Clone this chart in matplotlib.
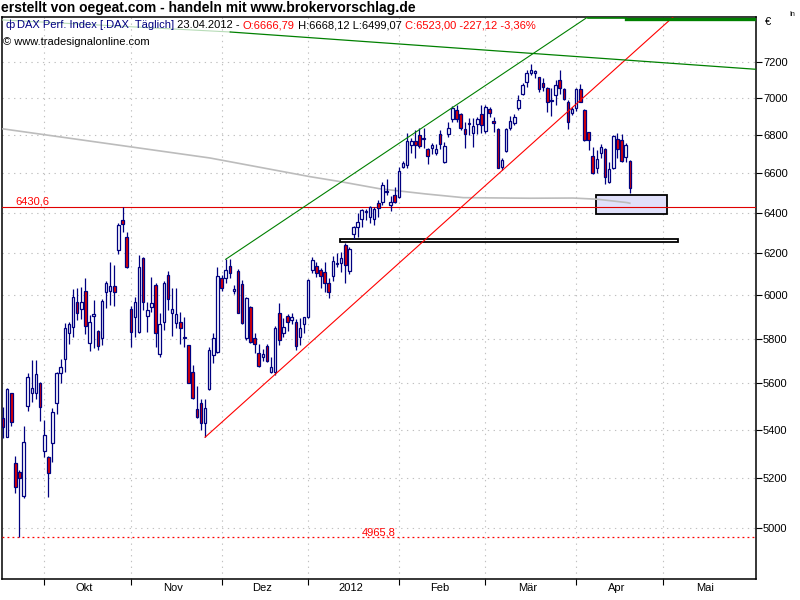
import numpy as np
import matplotlib
matplotlib.use('Agg')
import matplotlib.pyplot as plt
from matplotlib.patches import Rectangle
from matplotlib.ticker import FixedLocator, FixedFormatter, NullLocator

plt.rcParams['font.family'] = ['Liberation Sans', 'DejaVu Sans']

# DAX daily candles, Sep 2011 - 23.04.2012
opens = [5449, 5372, 5557, 5261, 5227, 5129, 5504, 5560, 5557, 5604,
         5313, 5286, 5344, 5514, 5648, 5707, 5824, 5851, 5967, 5934,
         6020, 5782, 5905, 5835, 5802, 6014, 6022, 6044, 6216, 6364,
         6282, 5936, 5897, 5832, 6176, 5905, 5947, 6048, 5731, 5877,
         6096, 5919, 5873, 5874, 5803, 5769, 5649, 5488, 5514, 5431,
         5576, 5727, 5741, 6080, 6080, 6139, 6018, 6115, 6053, 5801,
         5944, 5801, 5737, 5716, 5767, 5652, 5649, 5916, 5827, 5905,
         5885, 5877, 5806, 5865, 5897, 6120, 6139, 6120, 6112, 6060,
         6091, 6147, 6155, 6241, 6117, 6295, 6328, 6369, 6403, 6381,
         6369, 6448, 6456, 6505, 6440, 6490, 6478, 6635, 6644, 6749,
         6770, 6802, 6779, 6726, 6735, 6708, 6805, 6661, 6805, 6886,
         6936, 6913, 6834, 6859, 6811, 6859, 6913, 6823, 6941, 6877,
         6834, 6635, 6719, 6841, 6864, 6949, 7022, 7088, 7138, 7138,
         7115, 7083, 7055, 6985, 7015, 7101, 7051, 6978, 6918, 6945,
         7051, 6936, 6816, 6691, 6626, 6705, 6726, 6555, 6626, 6780,
         6775, 6684, 6666.79]
highs = [5499, 5582, 5560, 5291, 5233, 5417, 5645, 5704, 5704, 5608,
         5442, 5291, 5492, 5649, 5707, 5870, 5877, 6028, 6033, 6037,
         6080, 5908, 5978, 5839, 5983, 6067, 6160, 6144, 6347, 6430.6,
         6303, 5950, 5990, 6192, 6180, 5970, 6085, 6056, 5919, 6067,
         6115, 6033, 6033, 5920, 5900, 5772, 5682, 5589, 5531, 5531,
         5760, 5827, 6136, 6096, 6171, 6171, 6049, 6123, 6072, 5993,
         5950, 5824, 5776, 5752, 5776, 5719, 5855, 5965, 5893, 5912,
         5916, 5888, 5893, 5900, 6075, 6184, 6160, 6128, 6160, 6080,
         6187, 6200, 6208, 6249, 6233, 6334, 6398, 6418, 6418, 6435,
         6428, 6465, 6557, 6570, 6485, 6532, 6635, 6666, 6811, 6784,
         6829, 6838, 6838, 6735, 6758, 6753, 6829, 6763, 6873, 6959,
         6963, 6918, 6873, 6891, 6895, 6900, 6963, 6963, 6954, 6900,
         6838, 6679, 6838, 6904, 6913, 7018, 7083, 7156, 7188, 7156,
         7119, 7110, 7064, 7055, 7101, 7156, 7055, 6991, 6954, 7055,
         7077, 6941, 6819, 6740, 6722, 6753, 6731, 6657, 6802, 6811,
         6807, 6758, 6668.12]
lows = [5365, 5369, 5417, 5139, 4965.8, 5119, 5482, 5521, 5532, 5439,
        5288, 5125, 5268, 5466, 5604, 5652, 5774, 5809, 5885, 5889,
        5820, 5746, 5757, 5749, 5769, 5939, 5955, 5950, 6195, 6303,
        6130, 5760, 5809, 5825, 5931, 5832, 5923, 5764, 5719, 5839,
        5931, 5812, 5847, 5776, 5764, 5601, 5533, 5452, 5400, 5369,
        5572, 5689, 5734, 6018, 6057, 6080, 6007, 5916, 5867, 5794,
        5779, 5734, 5672, 5697, 5695, 5644, 5637, 5772, 5809, 5836,
        5867, 5749, 5772, 5824, 5893, 6107, 6088, 6036, 6013, 5985,
        6069, 6136, 6112, 6060, 6101, 6269, 6282, 6331, 6364, 6351,
        6339, 6381, 6440, 6490, 6411, 6448, 6473, 6627, 6630, 6708,
        6679, 6731, 6731, 6647, 6701, 6696, 6728, 6653, 6788, 6873,
        6873, 6829, 6731, 6802, 6740, 6805, 6811, 6811, 6900, 6816,
        6626, 6618, 6714, 6829, 6852, 6936, 7015, 7064, 7129, 7110,
        7033, 7037, 6927, 6904, 6963, 7022, 6991, 6834, 6906, 6931,
        6978, 6770, 6722, 6595, 6600, 6679, 6544, 6550, 6623, 6679,
        6657, 6657, 6499.07]
closes = [5414, 5576, 5435, 5166, 5199, 5348, 5627, 5579, 5642, 5499,
          5379, 5220, 5476, 5645, 5674, 5847, 5865, 5994, 5916, 5967,
          5859, 5877, 5911, 5767, 5973, 6056, 6045, 6014, 6339, 6342,
          6136, 5832, 5967, 6133, 5967, 5931, 5962, 5827, 5865, 6056,
          5983, 5936, 5911, 5850, 5806, 5604, 5538, 5456, 5428, 5492,
          5749, 5802, 6091, 6033, 6120, 6104, 6028, 5919, 5873, 5985,
          5784, 5776, 5677, 5730, 5701, 5671, 5847, 5794, 5852, 5877,
          5900, 5768, 5847, 5897, 6072, 6168, 6107, 6091, 6057, 6013,
          6163, 6155, 6179, 6144, 6220, 6331, 6356, 6414, 6411, 6428,
          6418, 6423, 6540, 6512, 6453, 6456, 6613, 6656, 6772, 6767,
          6749, 6744, 6784, 6691, 6749, 6726, 6753, 6745, 6841, 6949,
          6886, 6837, 6805, 6864, 6850, 6886, 6852, 6954, 6918, 6864,
          6630, 6670, 6834, 6877, 6900, 6991, 7074, 7138, 7156, 7151,
          7051, 7064, 6981, 6989, 7074, 7055, 6996, 6870, 6941, 7051,
          6981, 6775, 6775, 6600, 6675, 6740, 6583, 6621, 6797, 6726,
          6666, 6749, 6523.00]

# month starts as bar numbers, and the labels between them
month_starts = [10, 31, 53, 74, 96, 117, 139, 160, 182]
month_names = ['Okt', 'Nov', 'Dez', '2012', 'Feb', 'Mär', 'Apr', 'Mai']
price_ticks = [5000, 5200, 5400, 5600, 5800, 6000, 6200, 6400, 6600, 6800, 7000, 7200]

# grey moving average (bar, value)
ma_bar = [0, 50.2, 74.5, 81.7, 91.4, 102.4, 111.6, 127.8, 138.2, 144.1, 151.3, 152]
ma_val = [6834, 6680, 6583, 6558, 6521, 6495, 6476, 6473, 6474, 6468, 6451, 6448]

# drawn trend lines (bar, value) pairs
red_line = ([49, 162.5], [5369, 7459])
green_up = ([54, 141.8], [6171, 7459])
green_top_thin = ([141.8, 151], [7452, 7452])
green_top = ([151, 182.6], [7445, 7445])
green_down_pale = ([-0.3, 55.1], [7442, 7372])
green_down = ([55.1, 182.6], [7372, 7160])

high_mark = 6430.6
low_mark = 4965.8

navy = '#000080'
red = '#e00000'
W, H = 800, 600

fig = plt.figure(figsize=(8, 6), dpi=100)
ax = fig.add_axes([2 / W, 1 - 579 / H, 754 / W, 562 / H])
ax.set_yscale('log')

o = np.array(opens); hi = np.array(highs); lo = np.array(lows); c = np.array(closes)
x = np.arange(len(o))
up = c >= o

ax.vlines(x, lo, hi, color=navy, lw=0.9, zorder=4)
ax.bar(x[up], (c - o)[up], bottom=o[up], width=0.62, color='white',
       edgecolor=navy, lw=0.9, zorder=5)
ax.bar(x[~up], (o - c)[~up], bottom=c[~up], width=0.62, color=red,
       edgecolor=navy, lw=0.9, zorder=5)

# zones
ax.add_patch(Rectangle((143.8, 6394), 17.2, 96, facecolor='#e0e0fa',
                       edgecolor='black', lw=1.3, zorder=2))
ax.add_patch(Rectangle((81.7, 6253), 82, 17, facecolor='white',
                       edgecolor='black', lw=1.3, zorder=2))

ax.plot(ma_bar, ma_val, color='#bcbcbc', lw=1.2, zorder=3)
ax.plot(*red_line, color='#ff0000', lw=0.8, zorder=6)
ax.plot(*green_up, color='#008000', lw=0.8, zorder=6)
ax.plot(*green_top_thin, color='#008000', lw=1.2, zorder=6)
ax.plot(*green_top, color='#008000', lw=2.4, zorder=6)
ax.plot(*green_down_pale, color='#b8dcb8', lw=0.8, zorder=6)
ax.plot(*green_down, color='#008000', lw=0.9, zorder=6)

ax.axhline(high_mark, color='#e00000', lw=0.8, zorder=3)
ax.axhline(low_mark, color='#ff0000', lw=0.9, ls=(0, (1.5, 2.5)), zorder=3)
ax.text(2.9, high_mark, '6430,6', color='#ff0000', fontsize=8, va='bottom')
ax.text(87, low_mark, '4965,8', color='#ff0000', fontsize=8, va='bottom')

ax.set_xlim(-0.24, 182.6)
ax.set_ylim(4805.5, 7459)

ax.yaxis.tick_right()
ax.yaxis.set_major_locator(FixedLocator(price_ticks))
ax.yaxis.set_major_formatter(FixedFormatter([str(t) for t in price_ticks]))
ax.yaxis.set_minor_locator(NullLocator())
ax.tick_params(axis='y', which='major', length=4, width=0.8, pad=1, labelsize=8)

mids = [(a + b) / 2 - 0.7 for a, b in zip(month_starts[:-1], month_starts[1:])]
ax.xaxis.set_major_locator(FixedLocator(month_starts[:-1]))
ax.xaxis.set_major_formatter(FixedFormatter([''] * (len(month_starts) - 1)))
ax.xaxis.set_minor_locator(FixedLocator(mids))
ax.xaxis.set_minor_formatter(FixedFormatter(month_names))
ax.tick_params(axis='x', which='major', length=4, width=0.8)
ax.tick_params(axis='x', which='minor', length=0, pad=3, labelsize=8)

ax.grid(True, which='major', color='#c0c0c0', lw=0.8, ls=(0, (1.2, 4)))
ax.set_axisbelow(True)
for s in ax.spines.values():
    s.set_linewidth(1.1)
    s.set_color('black')

# header texts
fig.text(1 / W, 1 - 8 / H, 'erstellt von oegeat.com - handeln mit www.brokervorschlag.de',
         fontsize=10, fontweight='bold', va='center', ha='left')
fig.text(765 / W, 1 - 22 / H, '€', fontsize=8, va='center')
fig.text(789 / W, 1 - 15 / H, 'In', fontsize=5, va='center')

renderer = fig.canvas.get_renderer()
pieces = [('DAX Perf. Index [.DAX  Täglich]', navy), (' 23.04.2012 - ', 'black'),
          ('O:6666,79', '#ff0000'), (' H:6668,12 L:6499,07 ', 'black'),
          ('C:6523,00 -227,12 -3,36%', '#ff0000')]
fig.text(5 / W, 1 - 25 / H, 'ф', color=navy, fontsize=8, va='center')
px = 17
for s, col in pieces:
    t = fig.text(px / W, 1 - 25 / H, s, color=col, fontsize=8, va='center')
    px += t.get_window_extent(renderer=renderer).width
fig.text(3 / W, 1 - 42 / H, '© www.tradesignalonline.com', fontsize=8, va='center')

fig.savefig('out.png', dpi=100)
